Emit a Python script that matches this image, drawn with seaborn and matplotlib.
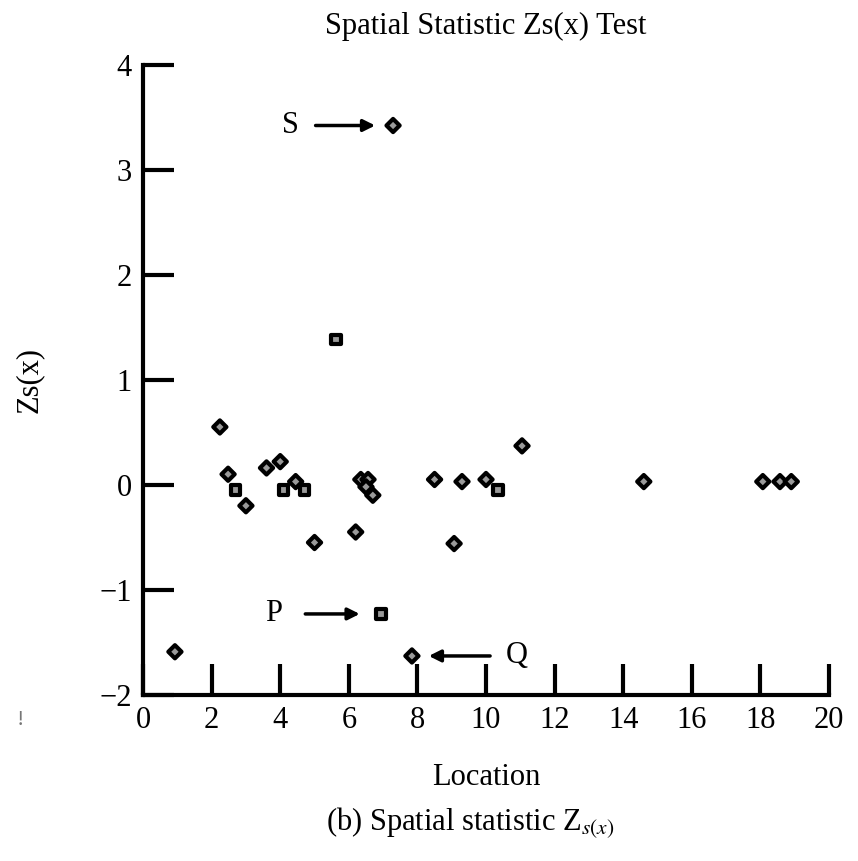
import matplotlib
matplotlib.use("Agg")
import matplotlib.pyplot as plt
import seaborn as sns
import pandas as pd

# --- data ---
loc_diamond = [0.93, 2.24, 2.48, 3.0, 3.6, 4.0, 4.45, 5.0, 6.2, 6.35, 6.56, 6.5, 6.7,
               7.29, 7.84, 8.5, 9.07, 9.3, 10.0, 11.05, 14.6, 18.07, 18.57, 18.9]
zs_diamond = [-1.59, 0.55, 0.10, -0.20, 0.16, 0.22, 0.03, -0.55, -0.45, 0.05, 0.05, -0.02, -0.10,
              3.42, -1.63, 0.05, -0.56, 0.03, 0.05, 0.37, 0.03, 0.03, 0.03, 0.03]
loc_square = [2.7, 4.1, 4.7, 5.63, 6.94, 10.35]
zs_square = [-0.05, -0.05, -0.05, 1.38, -1.23, -0.05]

x_ticks = [0, 2, 4, 6, 8, 10, 12, 14, 16, 18, 20]
y_ticks = [-2, -1, 0, 1, 2, 3, 4]

# labelled outliers: (label, text x, y, arrow start, arrow end)
callouts = [("S", 4.3, 3.42, 4.95, 6.85),
            ("P", 3.8, -1.23, 4.65, 6.4),
            ("Q", 10.9, -1.63, 10.2, 8.25)]

df = pd.DataFrame({
    "Location": loc_diamond + loc_square,
    "Zs": zs_diamond + zs_square,
    "kind": ["d"] * len(loc_diamond) + ["s"] * len(loc_square),
})

sns.set_style("white")
plt.rcParams['font.family'] = ['Liberation Serif', 'DejaVu Serif']
plt.rcParams['mathtext.fontset'] = 'stix'
plt.rcParams['text.color'] = 'black'
plt.rcParams['axes.labelcolor'] = 'black'
plt.rcParams['xtick.color'] = 'black'
plt.rcParams['ytick.color'] = 'black'

fig = plt.figure(figsize=(8.58, 8.61), dpi=100)
ax = fig.add_axes([0.1667, 0.193, 0.7995, 0.732])

sns.scatterplot(data=df, x="Location", y="Zs", style="kind",
                markers={"d": "D", "s": "s"}, s=45, color="#9a9a9a",
                edgecolor="black", linewidth=3, legend=False, ax=ax, zorder=3)

for lab, tx, ty, x0, x1 in callouts:
    ax.text(tx, ty, lab, fontsize=22, ha="center", va="center")
    ax.annotate("", xy=(x1, ty), xytext=(x0, ty),
                arrowprops=dict(arrowstyle="-|>,head_length=0.7,head_width=0.35",
                                color="black", lw=2.5))

ax.set_xlim(0, 20)
ax.set_ylim(-2, 4)
ax.set_xticks(x_ticks)
ax.set_yticks(y_ticks)
ax.set_yticklabels([str(v).replace("-", "\u2212") for v in y_ticks])
ax.tick_params(bottom=True, left=True, direction="in", length=22, width=3,
               labelsize=22, pad=8)
sns.despine(ax=ax)
for sp in ["left", "bottom"]:
    ax.spines[sp].set_linewidth(3)
    ax.spines[sp].set_color("black")

ax.set_xlabel("Location", fontsize=22, labelpad=20)
ax.set_ylabel("Zs(x)", fontsize=22, labelpad=40)
ax.set_title("Spatial Statistic Zs(x) Test", fontsize=22, pad=22)

fig.text(0.548, 0.044, r"(b) Spatial statistic Z$_{s(x)}$", fontsize=22, ha="center", va="center")
fig.text(0.024, 0.163, "!", fontsize=16, color="#777777", ha="center", va="center")

fig.savefig("out.png", dpi=100)
